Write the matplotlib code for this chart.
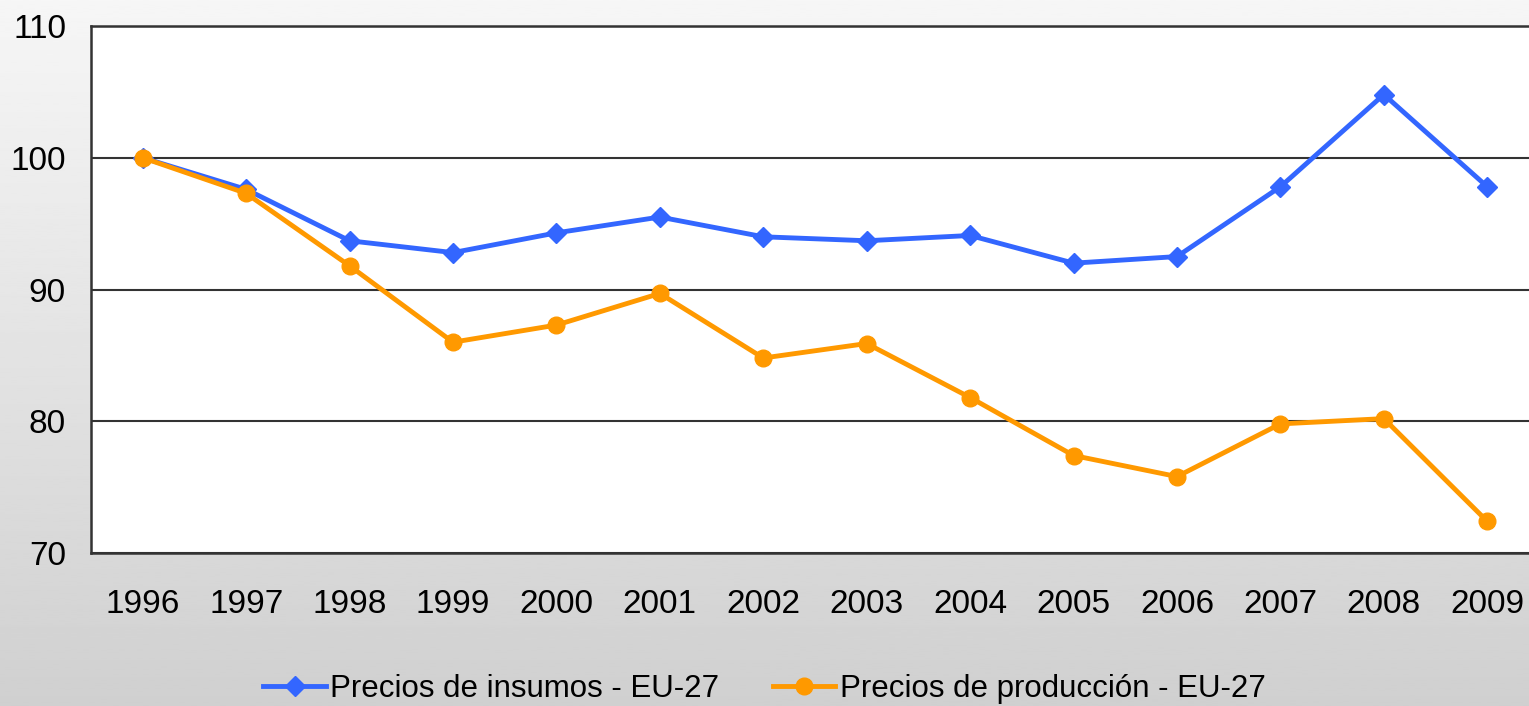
import matplotlib
matplotlib.use("Agg")
import matplotlib.pyplot as plt
import numpy as np

plt.rcParams['font.family'] = ['Liberation Sans', 'DejaVu Sans']

years = ['1996', '1997', '1998', '1999', '2000', '2001', '2002',
         '2003', '2004', '2005', '2006', '2007', '2008', '2009']
insumos = [100.0, 97.6, 93.7, 92.8, 94.3, 95.5, 94.0,
           93.7, 94.1, 92.0, 92.5, 97.8, 104.8, 97.8]
produccion = [100.0, 97.3, 91.8, 86.0, 87.3, 89.7, 84.8,
              85.9, 81.8, 77.4, 75.8, 79.8, 80.2, 72.4]

fig = plt.figure(figsize=(15.29, 7.06), dpi=100)

# grey gradient background
bg = fig.add_axes([0, 0, 1, 1], zorder=-10)
grad = np.linspace(0.965, 0.815, 256).reshape(-1, 1)
bg.imshow(grad, aspect='auto', cmap='gray', vmin=0, vmax=1,
          extent=[0, 1, 0, 1])
bg.set_axis_off()

ax = fig.add_axes([91 / 1529, 1 - 553 / 706, (1539 - 91) / 1529, (553 - 26) / 706])
ax.set_facecolor('white')
x = np.arange(len(years))

ax.plot(x, insumos, color='#3366FF', lw=3.5, marker='D', ms=10,
        label='Precios de insumos - EU-27', zorder=3)
ax.plot(x, produccion, color='#FF9900', lw=3.5, marker='o', ms=12,
        label='Precios de producción - EU-27', zorder=3)

ax.set_xlim(-0.5, len(years) - 0.5)
ax.set_ylim(70, 110)
ax.set_yticks([70, 80, 90, 100, 110])
ax.set_xticks(x)
ax.set_xticklabels(years)
ax.yaxis.grid(True, color='#333333', lw=1.5)
ax.set_axisbelow(True)
ax.tick_params(axis='both', length=0, labelsize=24)
ax.tick_params(axis='y', pad=18)
ax.tick_params(axis='x', pad=26)

for s in ['left', 'bottom', 'top']:
    ax.spines[s].set_color('#333333')
    ax.spines[s].set_linewidth(1.8)
ax.spines['right'].set_visible(False)

fig.legend(loc='center', bbox_to_anchor=(0.5, 1 - 689 / 706), ncol=2,
           frameon=False, fontsize=22.5, handlelength=2.0, handletextpad=0.15,
           columnspacing=1.7)

fig.savefig('out.png', dpi=100)
